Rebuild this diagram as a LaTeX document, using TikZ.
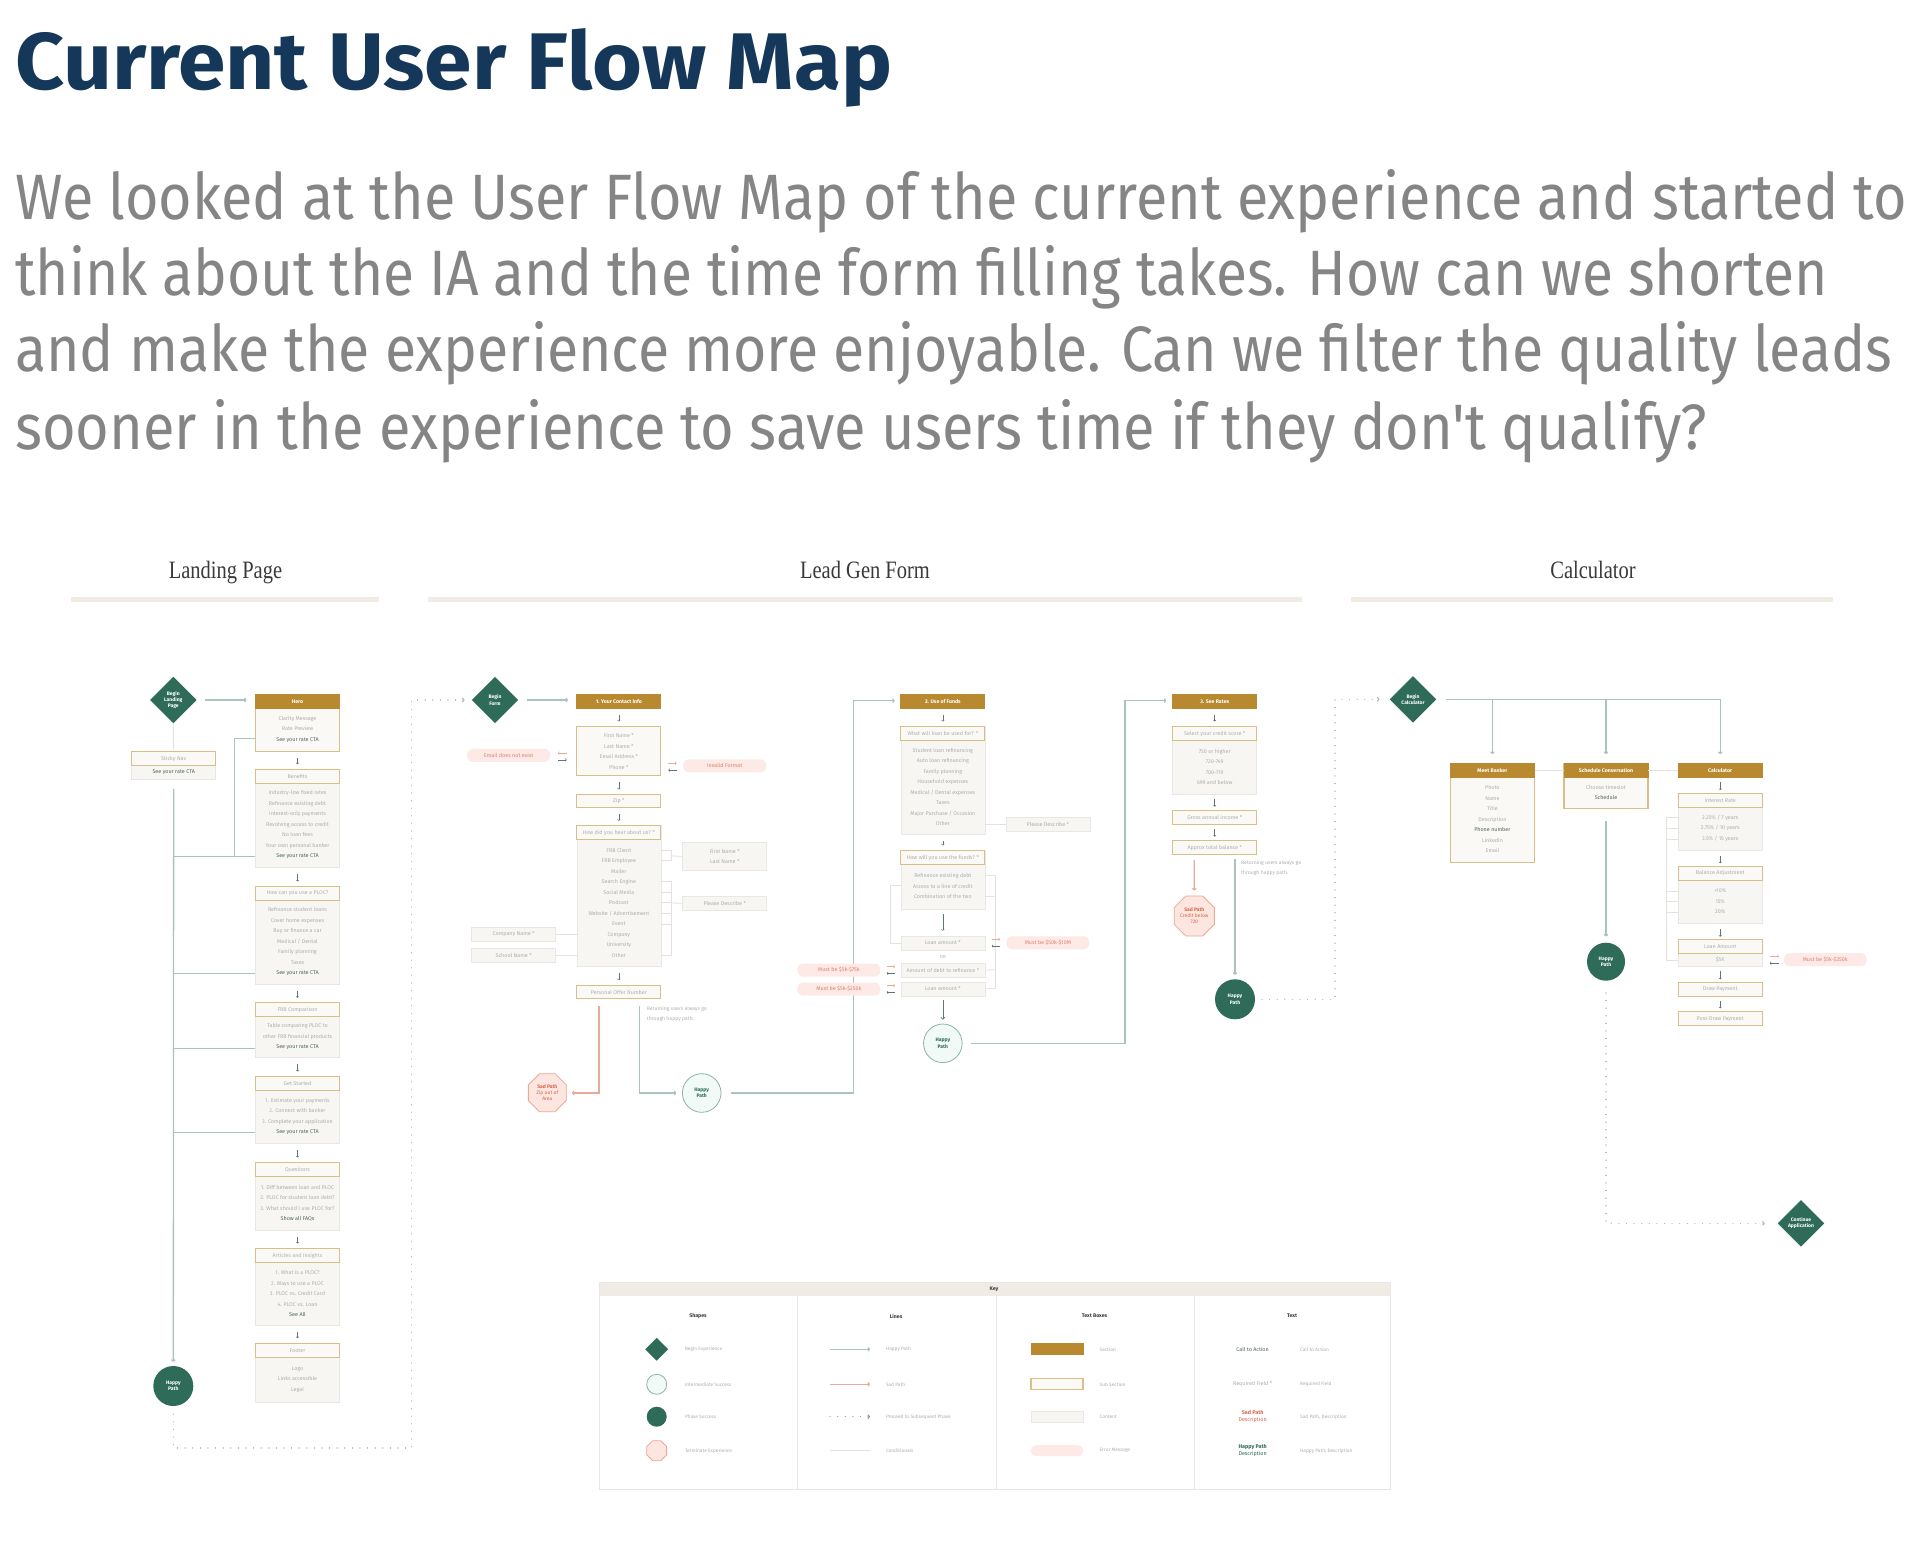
\documentclass[tikz,border=0pt]{standalone}
\usepackage{fontspec}
\usepackage{graphicx}
\setmainfont{Fira Sans}
\newfontfamily\lightf{Fira Sans}
\newfontfamily\serf{Liberation Serif}
\usetikzlibrary{shapes.geometric,arrows.meta}

\definecolor{gold}{HTML}{B8892F}
\definecolor{goldline}{HTML}{D8BE88}
\definecolor{subbg}{HTML}{FBF9F5}
\definecolor{contbg}{HTML}{F7F6F3}
\definecolor{contline}{HTML}{E9E7E3}
\definecolor{dgreen}{HTML}{2E6B58}
\definecolor{happy}{HTML}{A9C3BE}
\definecolor{sad}{HTML}{EBA99C}
\definecolor{errfill}{HTML}{FDE9E5}
\definecolor{errtext}{HTML}{E0826F}
\definecolor{mintfill}{HTML}{F1FAF7}
\definecolor{mintline}{HTML}{8DB3A8}
\definecolor{sadfill}{HTML}{FCE6DF}
\definecolor{sadline}{HTML}{EDA895}
\definecolor{sadtext}{HTML}{D8664C}
\definecolor{txt}{HTML}{AFAFAC}
\definecolor{cta}{HTML}{51665F}
\definecolor{arr}{HTML}{5F7672}
\definecolor{navy}{HTML}{15375A}
\definecolor{para}{HTML}{858585}
\definecolor{headbar}{HTML}{F0EBE5}
\definecolor{cond}{HTML}{E4E2DE}
\definecolor{dots}{HTML}{B5B5B5}
\definecolor{keydark}{HTML}{3A3A3A}

\newcommand\cf{\lightf\fontsize{5.4}{10.5}\selectfont}
\newcommand\hdf{\lightf\fontsize{5.4}{6.5}\selectfont}
\newcommand\secf{\normalfont\bfseries\fontsize{5.2}{6.5}\selectfont}
\newcommand\shf{\normalfont\bfseries\fontsize{5}{6.2}\selectfont}
\newcommand\kf{\lightf\fontsize{4.8}{6}\selectfont}

\tikzset{
 sect/.style={draw=gold, fill=gold, line width=0.8pt, minimum width=84pt, minimum height=14pt, inner sep=0pt, text=white, font=\secf},
 subsect/.style={draw=goldline, fill=subbg, line width=1.1pt, minimum width=84pt, minimum height=14pt, inner sep=0pt, text=txt, font=\hdf},
 cont/.style={draw=contline, fill=contbg, line width=0.6pt, minimum width=84pt, inner sep=0pt},
 goldcont/.style={draw=goldline, fill=subbg, line width=1.1pt, minimum width=84pt, inner sep=0pt},
 contbox/.style={cont, minimum height=14pt, text=txt, font=\hdf, align=center},
 subbox/.style={subsect, align=center},
 itemtxt/.style={text=txt, font=\cf, align=center, inner sep=0pt},
 errpill/.style={fill=errfill, rounded corners=6pt, minimum width=83pt, minimum height=13pt, inner sep=0pt, text=errtext, font=\hdf},
 begdia/.style={diamond, aspect=1, fill=dgreen, minimum width=46.6pt, minimum height=46.6pt, inner sep=0pt, text=white, align=center, font=\shf},
 phase/.style={circle, fill=dgreen, minimum size=40pt, inner sep=0pt, text=white, align=center, font=\shf},
 inter/.style={circle, draw=mintline, fill=mintfill, line width=0.8pt, minimum size=38.6pt, inner sep=0pt, text=dgreen, align=center, font=\shf},
 term/.style={regular polygon, regular polygon sides=8, draw=sadline, fill=sadfill, line width=0.8pt, minimum size=41pt, inner sep=0pt, text=sadtext, align=center, font=\lightf\fontsize{5}{6}\selectfont},
 smallarr/.style={draw=arr, line width=0.5pt, -{To[length=1.6pt,width=3pt]}, shorten <=6pt, shorten >=4.5pt},
 happyline/.style={draw=happy, line width=1.3pt},
 happyarr/.style={happyline, -{To[length=2.5pt,width=4.5pt]}},
 sadarr/.style={draw=sad, line width=1.3pt, -{To[length=2.5pt,width=4.5pt]}},
 dotarr/.style={draw=dots, line width=1.2pt, line cap=round, dash pattern=on 0.1pt off 7.5pt, -{To[length=2.5pt,width=4.5pt]}},
 condline/.style={draw=cond, line width=0.8pt},
 errarr/.style={draw=sad, line width=0.6pt, -{To[length=1.6pt,width=3pt]}},
 backarr/.style={draw=arr, line width=0.6pt, -{To[length=1.6pt,width=3pt]}},
 anno/.style={text=txt, font=\lightf\fontsize{5.1}{10.3}\selectfont, align=left, inner sep=0pt},
 klabel/.style={text=txt, font=\kf, anchor=west, inner sep=0pt},
 ktitle/.style={text=keydark, font=\secf, inner sep=0pt},
 colhead/.style={anchor=base, inner sep=0pt, text=keydark}
}

% name, x, ytop, ybot, header, items, header style, content style
\newcommand\mkbox[8]{%
 \node[#8, anchor=north, minimum height={(#4-#3)*1pt}] (#1) at (#2,#3) {};
 \node[#7, anchor=north] (#1h) at (#2,#3) {#5};
 \node[itemtxt] (#1t) at (#2,{(#3+14+#4)/2}) {#6};
}
% pair of small arrows: x1 x2 y ; top red to the right, bottom back to the left
\newcommand\pairR[3]{%
 \draw[errarr] ({#1},{#3-3.4}) -- ({#2},{#3-3.4});
 \draw[backarr] ({#2},{#3+3.4}) -- ({#1},{#3+3.4});
}
\newcommand\pairL[3]{%
 \draw[errarr] ({#2},{#3-3.4}) -- ({#1},{#3-3.4});
 \draw[backarr] ({#1},{#3+3.4}) -- ({#2},{#3+3.4});
}

\begin{document}
\begin{tikzpicture}[x=1pt,y=-1pt]
\useasboundingbox (0,0) rectangle (1929,1566);
\fill[white] (0,0) rectangle (1929,1566);

% ---------- title and text ----------
\node[anchor=base west, inner sep=0pt, text=navy] (title) at (15,89) {\resizebox{877pt}{61pt}{\bfseries Current User Flow Map}};
\node[anchor=base west, inner sep=0pt, text=para] (p1) at (15,219) {\resizebox{1892pt}{50pt}{\lightf We looked at the User Flow Map of the current experience and started to}};
\node[anchor=base west, inner sep=0pt, text=para] (p2) at (15,295) {\resizebox{1812pt}{50pt}{\lightf think about the IA and the time form filling takes. How can we shorten}};
\node[anchor=base west, inner sep=0pt, text=para] (p3) at (15,371.5) {\resizebox{1877pt}{50pt}{\lightf and make the experience more enjoyable. Can we filter the quality leads}};
\node[anchor=base west, inner sep=0pt, text=para] (p4) at (15,449) {\resizebox{1691pt}{50pt}{\lightf sooner in the experience to save users time if they don't qualify?}};

% ---------- column headers ----------
\node[colhead] (hlp) at (225.5,578) {\scalebox{0.82}[1]{\serf\fontsize{25}{30}\selectfont Landing Page}};
\node[colhead] (hlg) at (865,578) {\scalebox{0.82}[1]{\serf\fontsize{25}{30}\selectfont Lead Gen Form}};
\node[colhead] (hcl) at (1593,578) {\scalebox{0.82}[1]{\serf\fontsize{25}{30}\selectfont Calculator}};
\fill[headbar] (71,597) rectangle (379,602);
\fill[headbar] (428,597) rectangle (1302,602);
\fill[headbar] (1351,597) rectangle (1833,602);

% ================= LANDING PAGE =================
\node[begdia] (blp) at (173.3,700) {Begin\\Landing\\Page};
\mkbox{sticky}{173.7}{751.3}{779.3}{Sticky Nav}{\color{cta}See your rate CTA}{subsect}{cont}
\mkbox{hero}{297.5}{694}{750.7}{Hero}{Clarity Message\\Rate Preview\\\color{cta}See your rate CTA}{sect}{goldcont}
\mkbox{benefits}{297.5}{768.7}{867.3}{Benefits}{Industry-low fixed rates\\Refinance existing debt\\Interest-only payments\\Revolving access to credit\\No loan fees\\Your own personal banker\\\color{cta}See your rate CTA}{subsect}{cont}
\mkbox{howuse}{297.5}{886}{984}{How can you use a PLOC?}{Refinance student loans\\Cover home expenses\\Buy or finance a car\\Medical / Dental\\Family planning\\Taxes\\\color{cta}See your rate CTA}{subsect}{cont}
\mkbox{frb}{297.5}{1002.3}{1057.3}{FRB Comparison}{Table comparing PLOC to\\other FRB financial products\\\color{cta}See your rate CTA}{subsect}{cont}
\mkbox{getst}{297.5}{1076}{1143.3}{Get Started}{1. Estimate your payments\\2. Connect with banker\\3. Complete your application\\\color{cta}See your rate CTA}{subsect}{cont}
\mkbox{quest}{297.5}{1162}{1230}{Questions}{1. Diff between loan and PLOC\\2. PLOC for student loan debt?\\3. What should I use PLOC for?\\\color{cta}Show all FAQs}{subsect}{cont}
\mkbox{artic}{297.5}{1248}{1325}{Articles and Insights}{1. What is a PLOC?\\2. Ways to use a PLOC\\3. PLOC vs. Credit Card\\4. PLOC vs. Loan\\\color{cta}See All}{subsect}{cont}
\mkbox{footer}{297.5}{1342.7}{1401.7}{Footer}{Logo\\Links accessible\\Legal}{subsect}{cont}
\node[phase] (lhp) at (173.3,1386) {Happy\\Path};

\draw[happyarr, shorten <=8pt, shorten >=8.5pt] (blp.east) -- (blp.east -| heroh.west);
\draw[condline] (blp.south) -- (stickyh.north);
\draw[smallarr] (hero.south) -- (benefitsh.north);
\draw[smallarr] (benefits.south) -- (howuseh.north);
\draw[smallarr] (howuse.south) -- (frbh.north);
\draw[smallarr] (frb.south) -- (getsth.north);
\draw[smallarr] (getst.south) -- (questh.north);
\draw[smallarr] (quest.south) -- (artich.north);
\draw[smallarr] (artic.south) -- (footerh.north);

\coordinate (jb) at (173.3,856.7);
\coordinate (jh) at (173.3,973.7);
\coordinate (jf) at (173.3,1048.3);
\coordinate (jg) at (173.3,1132.7);
\coordinate (hcta) at (234.3,738.3);
\draw[happyarr, shorten <=9pt, shorten >=4pt] (sticky.south) -- (lhp.north);
\draw[happyline] (hero.west |- hcta) -- (hcta) -- (hcta |- jb);
\draw[happyline] (benefits.west |- jb) -- (jb);
\draw[happyline] (howuse.west |- jh) -- (jh);
\draw[happyline] (frb.west |- jf) -- (jf);
\draw[happyline] (getst.west |- jg) -- (jg);

% dotted to lead gen
\node[begdia] (bform) at (495,700) {Begin\\Form};
\coordinate (d1) at (173.3,1448);
\coordinate (d2) at (411.7,1448);
\coordinate (d3) at (411.7,700);
\draw[dotarr, shorten <=8pt, shorten >=7pt] (lhp.south) -- (d1) -- (d2) -- (d3) -- (bform.west);

% ================= LEAD GEN : CONTACT =================
\node[sect, anchor=north] (contacth) at (618.85,694) {1. Your Contact Info};
\node[subbox, anchor=north, minimum height=49.3pt, font=\cf] (contact) at (618.85,726) {First Name *\\Last Name *\\Email Address *\\Phone *};
\node[errpill] (emailerr) at (508.7,755.3) {Email does not exist};
\node[errpill] (invalid) at (724.7,765.8) {Invalid Format};
\node[subbox, anchor=north, minimum height=13.3pt] (zip) at (618.85,794) {Zip *};
\mkbox{hear}{618.85}{825.3}{966}{How did you hear about us? *}{FRB Client\\FRB Employee\\Mailer\\Search Engine\\Social Media\\Podcast\\Website / Advertisement\\Event\\Company\\University\\Other}{subsect}{cont}
\node[cont, anchor=north, minimum height=28pt, text=txt, font=\cf, align=center] (names) at (724.7,842) {First Name *\\Last Name *};
\node[contbox, anchor=north] (desc1) at (724.7,896) {Please Describe *};
\node[contbox] (company) at (513.7,934.3) {Company Name *};
\node[contbox] (school) at (513.7,955.3) {School Name *};
\node[subbox, anchor=north, minimum height=13.6pt] (pon) at (618.85,984.7) {Personal Offer Number};
\node[anno, anchor=north west] (anno1) at (646.7,1006.5) {Returning users always go\\through happy path.};

\draw[happyarr, shorten <=8.4pt, shorten >=8.4pt] (bform.east) -- (bform.east -| contacth.west);
\draw[smallarr] (contacth.south) -- (contact.north);
\draw[smallarr] (contact.south) -- (zip.north);
\draw[smallarr] (zip.south) -- (hearh.north);
\draw[smallarr] (hear.south) -- (pon.north);
\pairL{558}{566.7}{756.5}
\pairR{668.3}{676.7}{766.7}

\draw[condline] (hear.east |- 0,850.3) -- (671.7,850.3) -- (671.7,860.7) -- (hear.east |- 0,860.7);
\draw[condline] (671.7,856) -- (names.west);
\draw[condline] (hear.east |- 0,881.7) -- (671.7,881.7) -- (671.7,955.3) -- (hear.east |- 0,955.3);
\foreach \yy in {892.3,902.7,913.3,924} \draw[condline] (hear.east |- 0,\yy) -- (671.7,\yy);
\draw[condline] (671.7,903) -- (desc1.west);
\draw[condline] (company.east) -- (company.east -| hear.west);
\draw[condline] (school.east) -- (school.east -| hear.west);

\node[term] (sad1) at (547.3,1092.7) {{\normalfont\bfseries Sad Path}\\Zip out of\\Area};
\node[inter] (ihp1) at (701.7,1093) {Happy\\Path};
\coordinate (sp1) at (599,1093);
\coordinate (hp1) at (639.3,1093);
\draw[sadarr, shorten <=6.7pt, shorten >=5.3pt] (pon.south -| sp1) -- (sp1) -- (sad1.east |- sp1);
\draw[happyarr, shorten <=6.7pt, shorten >=5.7pt] (pon.south -| hp1) -- (hp1) -- (ihp1.west |- hp1);

% ================= LEAD GEN : USE OF FUNDS =================
\node[sect, anchor=north] (fundsh) at (942.85,694) {2. Use of Funds};
\coordinate (v1) at (853.3,1093);
\coordinate (v1t) at (853.3,700.7);
\draw[happyarr, shorten <=10pt, shorten >=5.7pt] (ihp1.east) -- (v1) -- (v1t) -- (fundsh.west |- v1t);
\mkbox{usedfor}{942.85}{726}{834.3}{What will loan be used for? *}{Student loan refinancing\\Auto loan refinancing\\Family planning\\Household expenses\\Medical / Dental expenses\\Taxes\\Major Purchase / Occasion\\Other}{subsect}{cont}
\node[contbox, anchor=north] (desc2) at (1047.85,817.3) {Please Describe *};
\mkbox{usefunds}{942.85}{850}{908.7}{How will you use the funds? *}{Refinance existing debt\\Access to a line of credit\\Combination of the two}{subsect}{cont}
\node[contbox, anchor=north] (loan1) at (942.85,935.7) {Loan amount *};
\node[text=txt, font=\lightf\fontsize{4.5}{5}\selectfont, inner sep=0pt] (ortext) at (942.85,956.5) {OR};
\node[contbox, anchor=north] (debt) at (942.85,962.7) {Amount of debt to refinance *};
\node[contbox, anchor=north] (loan2) at (942.85,981.7) {Loan amount *};
\node[inter] (ihp2) at (942.85,1043.3) {Happy\\Path};

\draw[smallarr] (fundsh.south) -- (usedforh.north);
\draw[smallarr] (usedfor.south) -- (usefundsh.north);
\draw[smallarr, shorten <=4.6pt, shorten >=5pt] (usefunds.south) -- (loan1.north);
\draw[happyarr, draw=arr, line width=0.7pt, shorten <=4pt, shorten >=4pt] (loan2.south) -- (ihp2.north);
\draw[condline] (usedfor.east |- desc2) -- (desc2.west);
\draw[condline] (usefunds.west |- 0,885.3) -- (890,885.3) |- (loan1.west);
\draw[condline] (usefunds.east |- 0,875) -| (995.7,988.7) -- (loan2.east |- 0,988.7);
\draw[condline] (usefunds.east |- 0,896) -- (995.7,896);
\draw[condline] (995.7,969.7) -- (debt.east);

\node[errpill] (err2) at (1047.85,942.8) {Must be \$50k-\$10M};
\node[errpill] (err3) at (838.85,970) {Must be \$5k-\$75k};
\node[errpill] (err4) at (838.85,989) {Must be \$5k-\$250k};
\pairR{991.7}{1000}{942.6}
\pairR{886.7}{895}{970}
\pairR{886.7}{895}{989}

% ================= LEAD GEN : SEE RATES =================
\node[sect, anchor=north] (ratesh) at (1214.7,694) {3. See Rates};
\coordinate (v2) at (1125,1043.3);
\coordinate (v2t) at (1125,700.7);
\draw[happyarr, shorten <=8pt, shorten >=6pt] (ihp2.east) -- (v2) -- (v2t) -- (ratesh.west |- v2t);
\mkbox{credit}{1214.7}{726}{794}{Select your credit score *}{750 or higher\\720-749\\700-719\\699 and below}{subsect}{cont}
\node[subbox, anchor=north] (income) at (1214.7,810) {Gross annual income *};
\node[subbox, anchor=north] (balance) at (1214.7,840) {Approx total balance *};
\node[term] (sad2) at (1194.3,916) {{\normalfont\bfseries Sad Path}\\Credit below\\720};
\node[phase] (php2) at (1235,999.3) {Happy\\Path};
\node[anno, anchor=north west] (anno2) at (1241,860) {Returning users always go\\through happy path.};
\draw[smallarr] (ratesh.south) -- (credith.north);
\draw[smallarr, shorten <=4pt, shorten >=3.3pt] (credit.south) -- (income.north);
\draw[smallarr, shorten <=4pt, shorten >=3.3pt] (income.south) -- (balance.north);
\draw[sadarr, shorten <=5pt, shorten >=5pt] (balance.south -| sad2) -- (sad2.north);
\draw[happyarr, shorten <=4.3pt, shorten >=4.3pt] (balance.south -| php2) -- (php2.north);

% ================= CALCULATOR =================
\node[begdia] (bcalc) at (1413,699.3) {Begin\\Calculator};
\coordinate (d4) at (1335,999.3);
\coordinate (d5) at (1335,699.3);
\draw[dotarr, shorten <=6.7pt, shorten >=10pt] (php2.east) -- (d4) -- (d5) -- (bcalc.west);

\mkbox{banker}{1492.4}{762.7}{861.7}{Meet Banker}{Photo\\Name\\Title\\Description\\\color{cta}Phone number\\LinkedIn\\Email}{sect}{goldcont}
\mkbox{sched}{1606}{762.7}{808.3}{Schedule Conversation}{Choose timeslot\\\color{cta}Schedule}{sect}{goldcont}
\node[sect, anchor=north] (calch) at (1720.2,762.7) {Calculator};
\coordinate (c1) at (1492.4,699.3);
\coordinate (c2) at (1606,699.3);
\coordinate (c3) at (1720.2,699.3);
\draw[happyarr, shorten <=9pt, shorten >=8.7pt] (bcalc.east) -- (c3) -- (calch.north);
\draw[happyarr, shorten >=8.7pt] (c1) -- (bankerh.north);
\draw[happyarr, shorten >=8.7pt] (c2) -- (schedh.north);
\draw[condline] (bankerh.east) -- (schedh.west);
\draw[condline] (schedh.east) -- (calch.west);

\mkbox{interest}{1720.2}{792.7}{850}{Interest Rate}{2.25\% / 7 years\\2.75\% / 10 years\\3.5\% / 15 years}{subsect}{cont}
\mkbox{baladj}{1720.2}{865.7}{923.3}{Balance Adjustment}{+10\%\\15\%\\20\%}{subsect}{cont}
\mkbox{loanamt}{1720.2}{939.3}{966}{Loan Amount}{\$5K}{subsect}{cont}
\node[subbox, anchor=north] (drawp) at (1720.2,982) {Draw Payment};
\node[subbox, anchor=north] (postd) at (1720.2,1011.3) {Post-Draw Payment};
\node[errpill] (err5) at (1825.2,959.7) {Must be \$5k-\$250k};
\pairR{1769.8}{1779}{959.7}
\draw[smallarr, shorten <=4.4pt, shorten >=2.7pt] (calch.south) -- (interesth.north);
\draw[smallarr, shorten <=5pt, shorten >=2.4pt] (interest.south) -- (baladjh.north);
\draw[smallarr, shorten <=5pt, shorten >=2.6pt] (baladj.south) -- (loanamth.north);
\draw[smallarr, shorten <=4pt, shorten >=2.7pt] (loanamt.south) -- (drawp.north);
\draw[smallarr, shorten <=4pt, shorten >=3pt] (drawp.south) -- (postd.north);
\draw[condline] (interest.west |- 0,817.7) -- (1666.4,817.7) -- (1666.4,960) -- (loanamt.west |- 0,960);
\foreach \yy in {828.3,839,891,901.3,912.3} \draw[condline] (1666.4,\yy) -- (interest.west |- 0,\yy);

\node[phase, minimum size=38pt] (php3) at (1606,961.7) {Happy\\Path};
\draw[happyarr, shorten <=11.7pt, shorten >=6pt] (sched.south) -- (php3.north);
\node[begdia] (contapp) at (1801,1223.3) {Continue\\Application};
\coordinate (d6) at (1606,1223.3);
\draw[dotarr, shorten <=12pt, shorten >=12.7pt] (php3.south) -- (d6) -- (contapp.west);

% ================= KEY =================
\node[draw=contline, fill=white, line width=0.6pt, minimum width=791pt, minimum height=207pt, anchor=north west, inner sep=0pt] (key) at (599,1282) {};
\node[fill=headbar, minimum width=790pt, minimum height=13pt, anchor=north west, inner sep=0pt] (keyh) at (599.3,1282.3) {};
\node[ktitle] (keyt) at (994,1288.8) {Key};
\draw[contline, line width=0.6pt] (797,1295.3) -- (797,1489);
\draw[contline, line width=0.6pt] (996.5,1295.3) -- (996.5,1489);
\draw[contline, line width=0.4pt] (1194,1295.3) -- (1194,1489);
\node[ktitle] (kc1) at (698,1316) {Shapes};
\node[ktitle] (kc2) at (896,1316) {Lines};
\node[ktitle] (kc3) at (1094.5,1316) {Text Boxes};
\node[ktitle] (kc4) at (1292,1316) {Text};

\node[begdia, minimum width=23pt, minimum height=23pt] (ks1) at (656.7,1349.3) {};
\node[inter, minimum size=20pt] (ks2) at (656.7,1384.3) {};
\node[phase, minimum size=20pt] (ks3) at (656.7,1416.7) {};
\node[term, minimum size=21.5pt] (ks4) at (656.7,1450.7) {};
\node[klabel] (ksl1) at (684.8,1349.3) {Begin Experience};
\node[klabel] (ksl2) at (684.8,1384.3) {Intermediate Success};
\node[klabel] (ksl3) at (684.8,1416.7) {Phase Success};
\node[klabel] (ksl4) at (684.8,1450.7) {Terminate Experience};

\coordinate (kla1) at (830,1349.3); \coordinate (klb1) at (870,1349.3);
\coordinate (kla2) at (830,1384.3); \coordinate (klb2) at (870,1384.3);
\coordinate (kla3) at (830,1416.7); \coordinate (klb3) at (870,1416.7);
\coordinate (kla4) at (830,1450.7); \coordinate (klb4) at (870,1450.7);
\draw[happyarr] (kla1) -- (klb1);
\draw[sadarr] (kla2) -- (klb2);
\draw[dotarr, draw=arr!70] (kla3) -- (klb3);
\draw[condline] (kla4) -- (klb4);
\node[klabel] (kll1) at (885.8,1349.3) {Happy Path};
\node[klabel] (kll2) at (885.8,1384.3) {Sad Path};
\node[klabel] (kll3) at (885.8,1416.7) {Proceed to Subsequent Phase};
\node[klabel] (kll4) at (885.8,1450.7) {Conditionals};

\node[sect, minimum width=52pt, minimum height=11pt] (kt1) at (1057,1349.3) {};
\node[subsect, minimum width=52pt, minimum height=11pt] (kt2) at (1057,1384.3) {};
\node[cont, minimum width=52pt, minimum height=11pt] (kt3) at (1057,1416.7) {};
\node[errpill, minimum width=52pt, minimum height=11pt, rounded corners=5pt] (kt4) at (1057,1450.7) {};
\node[klabel] (ktl1) at (1099.5,1349.3) {Section};
\node[klabel] (ktl2) at (1099.5,1384.3) {Sub Section};
\node[klabel] (ktl3) at (1099.5,1416.7) {Content};
\node[klabel] (ktl4) at (1099.5,1450.7) {Error Message};

\node[text=cta, font=\hdf, inner sep=0pt] (kx1) at (1252.6,1349.3) {Call to Action};
\node[text=txt, font=\hdf, inner sep=0pt] (kx2) at (1252.6,1384.3) {Required Field *};
\node[text=sadtext, font=\hdf, align=center, inner sep=0pt] (kx3) at (1252.6,1416.7) {{\normalfont\bfseries Sad Path}\\Description};
\node[text=dgreen, font=\hdf, align=center, inner sep=0pt] (kx4) at (1252.6,1450.7) {{\normalfont\bfseries Happy Path}\\Description};
\node[klabel] (kxl1) at (1300,1349.3) {Call to Action};
\node[klabel] (kxl2) at (1300,1384.3) {Required Field};
\node[klabel] (kxl3) at (1300,1416.7) {Sad Path, Description};
\node[klabel] (kxl4) at (1300,1450.7) {Happy Path, Description};
\end{tikzpicture}
\end{document}
